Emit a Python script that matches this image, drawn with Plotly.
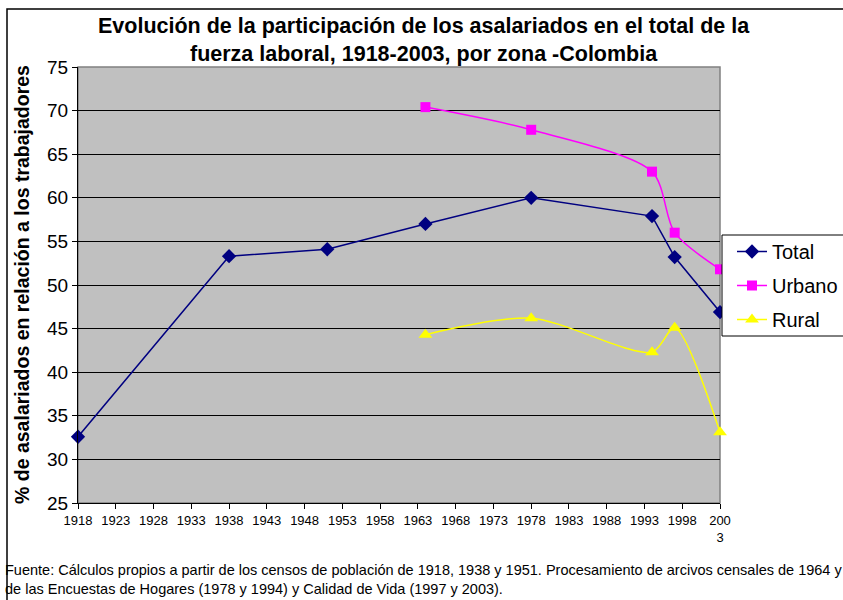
import plotly.graph_objects as go

# Datos
years_total = [1918, 1938, 1951, 1964, 1978, 1994, 1997, 2003]
total = [32.6, 53.3, 54.1, 57.0, 60.0, 57.9, 53.2, 46.9]

years_zona = [1964, 1978, 1994, 1997, 2003]
urbano = [70.4, 67.8, 63.0, 56.0, 51.8]
rural = [44.3, 46.2, 42.3, 45.1, 33.1]

tick_years = list(range(1918, 2004, 5))
tick_labels = [str(y) for y in tick_years[:-1]] + ["200<br>3"]

FONT = "Liberation Sans, Arial, sans-serif"

# posicion del area de trazado en pixeles
W, H = 843, 600
L, R, T, B = 78, 720, 67, 503


def px_x(p):
    return (p - L) / (R - L)


def px_y(p):
    return (B - p) / (B - T)


fig = go.Figure()

fig.add_trace(go.Scatter(
    x=years_total, y=total, name="Total", mode="lines+markers", legendgroup="t",
    line=dict(color="#000080", width=1.5),
    marker=dict(symbol="diamond", size=11, color="#000080"),
    cliponaxis=False,
))
fig.add_trace(go.Scatter(
    x=years_zona, y=urbano, name="Urbano", mode="lines+markers", legendgroup="u",
    line=dict(color="#FF00FF", width=1.5, shape="spline", smoothing=0.8),
    marker=dict(symbol="square", size=10, color="#FF00FF"),
    cliponaxis=False,
))
fig.add_trace(go.Scatter(
    x=years_zona, y=rural, name="Rural", mode="lines+markers", legendgroup="r",
    line=dict(color="#FFFF00", width=1.5, shape="spline", smoothing=0.8),
    marker=dict(symbol="triangle-up", size=12, color="#FFFF00"),
    cliponaxis=False,
))

fig.update_layout(
    width=W, height=H,
    margin=dict(l=L, r=W - R, t=T, b=H - B, autoexpand=False),
    paper_bgcolor="white",
    plot_bgcolor="#C0C0C0",
    font=dict(family=FONT, color="black"),
    showlegend=True,
    legend=dict(
        x=px_x(732), y=px_y(232), xanchor="left", yanchor="top",
        bgcolor="rgba(0,0,0,0)", borderwidth=0,
        font=dict(size=20, family=FONT),
        tracegroupgap=5,
    ),
)

fig.update_xaxes(
    range=[1918, 2003], tickvals=tick_years, ticktext=tick_labels,
    tickfont=dict(size=13), ticks="outside", ticklen=5, tickcolor="black",
    showline=True, linecolor="black", linewidth=1,
    showgrid=False, zeroline=False,
)
fig.update_yaxes(
    range=[25, 75], dtick=5, tickfont=dict(size=19),
    ticks="outside", ticklen=5, tickcolor="black",
    showline=True, linecolor="black", linewidth=1,
    showgrid=True, gridcolor="black", gridwidth=1, zeroline=False,
)

# borde del area de trazado, de la leyenda y del grafico
fig.add_shape(type="rect", xref="paper", yref="paper", x0=0, x1=1, y0=0, y1=1,
              line=dict(color="#808080", width=1.5), layer="below")
fig.add_shape(type="rect", xref="paper", yref="paper",
              x0=px_x(722), x1=px_x(870), y0=px_y(235), y1=px_y(336),
              fillcolor="white", line=dict(color="black", width=1), layer="above")
fig.add_shape(type="rect", xref="paper", yref="paper",
              x0=px_x(7), x1=px_x(870), y0=px_y(9), y1=px_y(640),
              line=dict(color="black", width=1.5))

fig.add_annotation(
    text="<b>Evolución de la participación de los asalariados en el total de la<br>"
         "fuerza laboral, 1918-2003, por zona -Colombia</b>",
    xref="paper", yref="paper", x=px_x(424), y=px_y(40),
    xanchor="center", yanchor="middle",
    showarrow=False, font=dict(size=21.5), align="center",
)
fig.add_annotation(
    text="<b>% de asalariados en relación a los trabajadores</b>",
    xref="paper", yref="paper", x=px_x(22), y=px_y(285), textangle=-90,
    xanchor="center", yanchor="middle",
    showarrow=False, font=dict(size=19.5),
)
fig.add_annotation(
    text="Fuente: Cálculos propios a partir de los censos de población de 1918, 1938 y 1951. "
         "Procesamiento de arcivos censales de 1964 y<br>"
         "de las Encuestas de Hogares (1978 y 1994) y Calidad de Vida (1997 y 2003).",
    xref="paper", yref="paper", x=px_x(3), y=px_y(579),
    xanchor="left", yanchor="middle",
    showarrow=False, font=dict(size=14.5), align="left",
)

fig.write_html("out.html", config={"displayModeBar": False},
               post_script="document.body.style.margin='0';")
